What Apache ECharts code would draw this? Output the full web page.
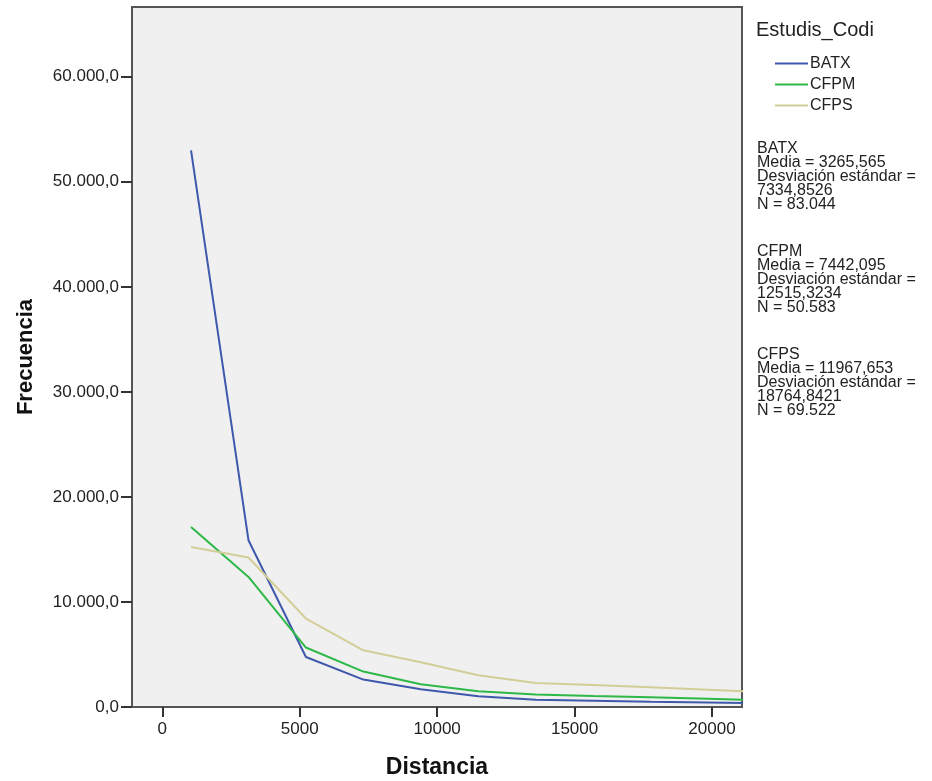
<!DOCTYPE html>
<html>
<head>
<meta charset="utf-8">
<title>Frecuencia por Distancia</title>
<script src="https://cdn.jsdelivr.net/npm/echarts@6/dist/echarts.min.js"></script>
<style>
  html, body { margin: 0; padding: 0; background: #fff; }
  #chart { width: 932px; height: 781px; }
</style>
</head>
<body>
<div id="chart"></div>
<script>
// centros de los intervalos de distancia
const distancia = [1045, 3135, 5225, 7315, 9405, 11495, 13585, 15675, 17765, 19855, 21945]
const batx = [53000, 15880, 4760, 2610, 1700, 1020, 700, 600, 500, 420, 340]
const cfpm = [17140, 12380, 5660, 3370, 2160, 1500, 1180, 1050, 930, 780, 640]
const cfps = [15240, 14230, 8420, 5400, 4260, 3020, 2290, 2100, 1880, 1650, 1400]
const xTicks = [0, 5000, 10000, 15000, 20000]
const yTicks = [0, 10000, 20000, 30000, 40000, 50000, 60000]
const nombres = ['BATX', 'CFPM', 'CFPS']
const resumen = [
  ['BATX', 'Media = 3265,565', 'Desviación estándar =', '7334,8526', 'N = 83.044'],
  ['CFPM', 'Media = 7442,095', 'Desviación estándar =', '12515,3234', 'N = 50.583'],
  ['CFPS', 'Media = 11967,653', 'Desviación estándar =', '18764,8421', 'N = 69.522']
]

const fuente = 'Liberation Sans, Arial, sans-serif'
const colores = ['#3E58AC', '#2EB848', '#D3CE97']

function formatoY(v) {
  return String(v).replace(/\B(?=(\d{3})+(?!\d))/g, '.') + ',0'
}

function serie(nombre, valores, color) {
  return {
    name: nombre,
    type: 'line',
    data: distancia.map((d, i) => [d, valores[i]]),
    symbol: 'none',
    clip: true,
    color: color,
    lineStyle: { color: color, width: 2 }
  }
}

const chart = echarts.init(document.getElementById('chart'), null, { renderer: 'canvas' })

chart.setOption({
  animation: false,
  backgroundColor: '#ffffff',
  title: {
    text: 'Estudis_Codi',
    left: 751,
    top: 15,
    textStyle: { fontFamily: fuente, fontSize: 20, fontWeight: 'normal', color: '#222' }
  },
  legend: {
    data: nombres,
    orient: 'vertical',
    left: 770,
    top: 50,
    icon: 'rect',
    itemWidth: 33,
    itemHeight: 2,
    itemGap: 4,
    textStyle: { fontFamily: fuente, fontSize: 16, color: '#222', lineHeight: 17, padding: [0, 0, 0, -3] }
  },
  graphic: resumen.map((bloque, i) => ({
    type: 'text',
    left: 757,
    top: 141 + i * 103,
    style: {
      text: bloque.join('\n'),
      font: '16px ' + fuente,
      fill: '#222',
      lineHeight: 13.8
    }
  })),
  grid: {
    left: 132,
    top: 7,
    right: 190,
    bottom: 74,
    outerBoundsMode: 'none',
    show: true,
    backgroundColor: '#f0f0f0',
    borderColor: '#555',
    borderWidth: 2
  },
  xAxis: {
    type: 'value',
    min: -1103,
    max: 21092,
    name: 'Distancia',
    nameLocation: 'middle',
    nameGap: 49,
    nameTextStyle: { fontFamily: fuente, fontSize: 23, fontWeight: 'bold', color: '#111' },
    axisLine: { show: false, onZero: false },
    axisTick: { show: true, length: 10, customValues: xTicks, lineStyle: { color: '#333', width: 2 } },
    axisLabel: { customValues: xTicks, margin: 14, fontFamily: fuente, fontSize: 17, color: '#222', formatter: v => String(v) },
    splitLine: { show: false }
  },
  yAxis: {
    type: 'value',
    min: 0,
    max: 66640,
    name: 'Frecuencia',
    nameLocation: 'middle',
    nameGap: 95,
    nameTextStyle: { fontFamily: fuente, fontSize: 22, fontWeight: 'bold', color: '#111' },
    axisLine: { show: false, onZero: false },
    axisTick: { show: true, length: 11, customValues: yTicks, lineStyle: { color: '#333', width: 2 } },
    axisLabel: { customValues: yTicks, margin: 13, fontFamily: fuente, fontSize: 17, color: '#222', formatter: formatoY },
    splitLine: { show: false }
  },
  series: [
    serie('BATX', batx, colores[0]),
    serie('CFPM', cfpm, colores[1]),
    serie('CFPS', cfps, colores[2])
  ]
})
</script>
</body>
</html>
